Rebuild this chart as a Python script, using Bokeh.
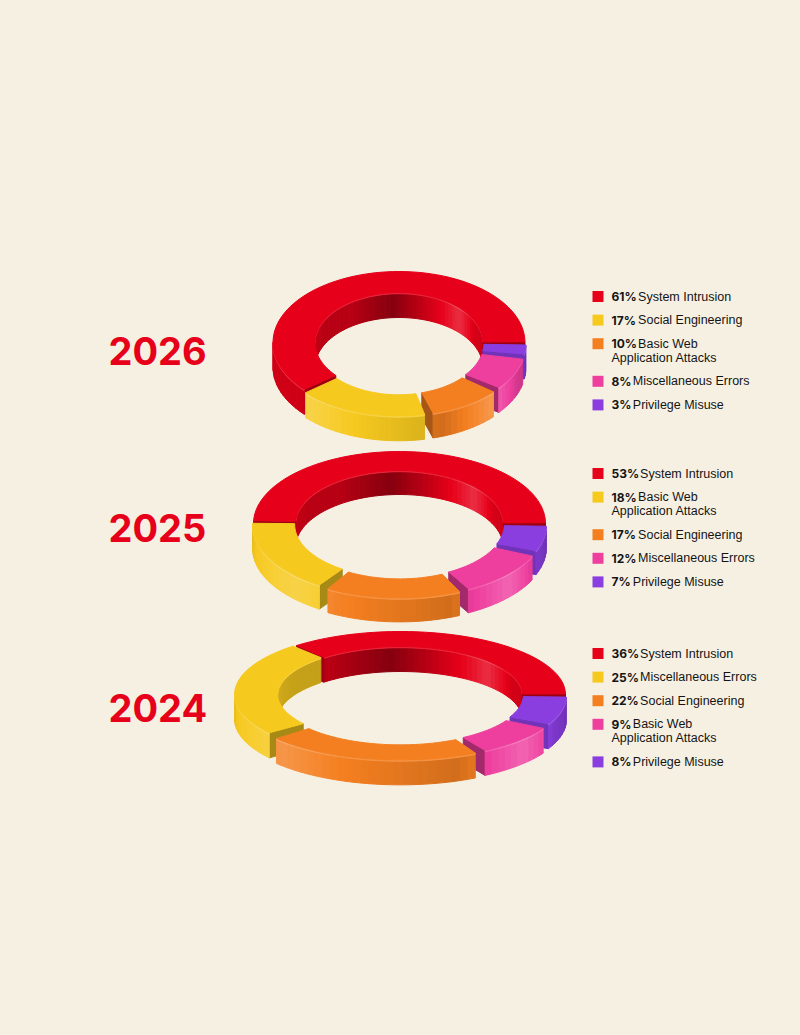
import math
import numpy as np
from bokeh.core.properties import value
from bokeh.embed import file_html
from bokeh.models import Range1d
from bokeh.plotting import figure
from bokeh.resources import INLINE

# ---- data -----------------------------------------------------------------
years = ["2026", "2025", "2024"]
labels_2026 = ["System Intrusion", "Social Engineering", "Basic Web\nApplication Attacks", "Miscellaneous Errors", "Privilege Misuse"]
values_2026 = [61, 17, 10, 8, 3]
labels_2025 = ["System Intrusion", "Basic Web\nApplication Attacks", "Social Engineering", "Miscellaneous Errors", "Privilege Misuse"]
values_2025 = [53, 18, 17, 12, 7]
labels_2024 = ["System Intrusion", "Miscellaneous Errors", "Social Engineering", "Basic Web\nApplication Attacks", "Privilege Misuse"]
values_2024 = [36, 25, 22, 9, 8]
palette = ["#E60019", "#F6C91F", "#F47F20", "#EE3E9E", "#8A3EE0"]

# ---- layout ---------------------------------------------------------------
BG = "#F6F0E3"
rings = [
    dict(cx=398.5, cy=342, rxo=126, ryo=71, rxi=84, ryi=50, h=25, year_y=350, leg_y=296),
    dict(cx=399, cy=523, rxo=146, ryo=72, rxi=104, ryi=53, h=24, year_y=527, leg_y=473),
    dict(cx=400, cy=694, rxo=165, ryo=63, rxi=122, ryi=48, h=25, year_y=707, leg_y=653),
]
GAP = 1.8
RED_GAP = 0.6
EXPLODE = 3.0
STEP = 3.0


def mix(col, s):
    r, g, b = [int(col[i:i + 2], 16) for i in (1, 3, 5)]
    t = 255 if s > 0 else 0
    k = abs(s)
    return "#%02x%02x%02x" % tuple(int(round(c + (t - c) * k)) for c in (r, g, b))


def outer_shade(a, col):
    if col == palette[0]:
        return -.1
    return float(np.interp(a, [180, 225, 250, 290, 318, 338, 360],
                           [-.08, .18, 0, -.14, .2, -.1, -.2]))


def inner_shade(a):
    return float(np.interp(a, [0, 25, 45, 68, 95, 125, 150, 180],
                           [-.12, -.08, .18, -.08, -.42, -.2, -.2, -.14]))


xs, ys, cols = [], [], []


def add(px, py, c):
    xs.append(list(px))
    ys.append(list(py))
    cols.append(c)


def draw_segment(r, a0, a1, col, offset):
    mid = math.radians((a0 + a1) / 2)
    ox = r["cx"] + offset * 0.3 * math.cos(mid)
    oy = r["cy"] - offset * 0.8 * math.sin(mid)
    h = r["h"]

    def po(a):
        t = math.radians(a)
        return ox + r["rxo"] * math.cos(t), oy - r["ryo"] * math.sin(t)

    def pi_(a):
        t = math.radians(a)
        return ox + r["rxi"] * math.cos(t), oy - r["ryi"] * math.sin(t)

    n = max(2, int(math.ceil((a1 - a0) / STEP)))
    ang = np.linspace(a0, a1, n + 1)

    # inner wall (faces the viewer on the far half of the ring)
    for u, v in zip(ang[:-1], ang[1:]):
        if (u + v) / 2 < 180:
            s = inner_shade((u + v) / 2)
            (x0, y0), (x1, y1) = pi_(u), pi_(v)
            add([x0, x1, x1, x0], [y0 + 1.2, y1 + 1.2, y1 + h, y0 + h], mix(col, s))
    for u, v in zip(ang[:-1], ang[1:]):
        if (u + v) / 2 < 180:
            s = inner_shade((u + v) / 2)
            (x0, y0), (x1, y1) = pi_(u), pi_(v)
            add([x0, x1, x1, x0], [y0, y1, y1 + 1.2, y0 + 1.2], mix(col, max(s, 0) + .14))

    # end caps
    cap_shade = -.18 if col == palette[4] else -.32

    def cap(a):
        (xa, ya), (xb, yb) = pi_(a), po(a)
        add([xa, xb, xb, xa], [ya, yb, yb + h, ya + h], mix(col, cap_shade))

    if math.cos(math.radians(a0)) > 0:
        cap(a0)
    if math.cos(math.radians(a1)) < 0:
        cap(a1)

    # outer wall (faces the viewer on the near half of the ring)
    for u, v in zip(ang[:-1], ang[1:]):
        if (u + v) / 2 > 180:
            s = outer_shade((u + v) / 2, col)
            (x0, y0), (x1, y1) = po(u), po(v)
            add([x0, x1, x1, x0], [y0 + 1.4, y1 + 1.4, y1 + h, y0 + h], mix(col, s))
    for u, v in zip(ang[:-1], ang[1:]):
        if (u + v) / 2 > 180:
            s = outer_shade((u + v) / 2, col)
            (x0, y0), (x1, y1) = po(u), po(v)
            add([x0, x1, x1, x0], [y0, y1, y1 + 1.4, y0 + 1.4], mix(col, max(s, 0) + .16))

    # top surface
    outer = [po(a) for a in ang]
    inner = [pi_(a) for a in ang[::-1]]
    pts = outer + inner
    add([q[0] for q in pts], [q[1] for q in pts], col)


all_values = [values_2026, values_2025, values_2024]
all_labels = [labels_2026, labels_2025, labels_2024]

for r, vals in zip(rings, all_values):
    total = sum(vals)
    segs, start = [], 0.0
    for i, v in enumerate(vals):
        span = v / total * 360
        g0 = RED_GAP if i < 2 else GAP
        g1 = RED_GAP if i == 0 else GAP
        segs.append((start + g0, start + span - g1, palette[i], 0 if i == 0 else EXPLODE))
        start += span
    # painter's order: far segments first
    segs.sort(key=lambda s: math.sin(math.radians((s[0] + s[1]) / 2)), reverse=True)
    for a0, a1, c, off in segs:
        draw_segment(r, a0, a1, c, off)

p = figure(width=800, height=1035, x_range=Range1d(0, 800), y_range=Range1d(1035, 0),
           output_backend="svg", toolbar_location=None, min_border=0,
           background_fill_color=BG, border_fill_color=BG, outline_line_color=None)
p.axis.visible = False
p.grid.visible = False

p.patches(xs, ys, fill_color=cols, line_color=cols, line_width=1.0)

# year titles
p.text([108] * 3, [r["year_y"] for r in rings], text=years, text_font=value("Inter"),
       text_font_style="bold", text_font_size="38px", text_color="#E60019",
       text_baseline="middle", text_align="left")

# legends
DIGIT = {"1": 5.3}


def pct_width(s):
    return sum(DIGIT.get(ch, 7.3) for ch in s) + 11.0 + 3.0


sq_x, sq_y, sq_c = [], [], []
bx, by, bt, tx, ty, tt = [], [], [], [], [], []
for r, vals, labs in zip(rings, all_values, all_labels):
    y = r["leg_y"]
    for i, (v, lab) in enumerate(zip(vals, labs)):
        lines = lab.split("\n")
        sq_x.append(597.5)
        sq_y.append(y)
        sq_c.append(palette[i])
        bx.append(611)
        by.append(y)
        bt.append(f"{v}%")
        tx.append(611 + pct_width(str(v)))
        ty.append(y)
        tt.append(lines[0])
        for j, extra in enumerate(lines[1:], 1):
            tx.append(611)
            ty.append(y + 14 * j)
            tt.append(extra)
        y += 23.6 + 14 * (len(lines) - 1)

p.rect(sq_x, sq_y, width=11, height=11, fill_color=sq_c, line_color=None)
p.text(bx, by, text=bt, text_font=value("Inter"), text_font_style="bold", text_font_size="12px",
       text_color="#141414", text_baseline="middle", text_align="left")
p.text(tx, ty, text=tt, text_font=value("Liberation Sans"), text_font_size="12.5px",
       text_color="#141414", text_baseline="middle", text_align="left")

html = file_html(p, INLINE)
html = html.replace("</head>", f"<style>html,body{{background:{BG};}}</style></head>", 1)
open("out.html", "w").write(html)
